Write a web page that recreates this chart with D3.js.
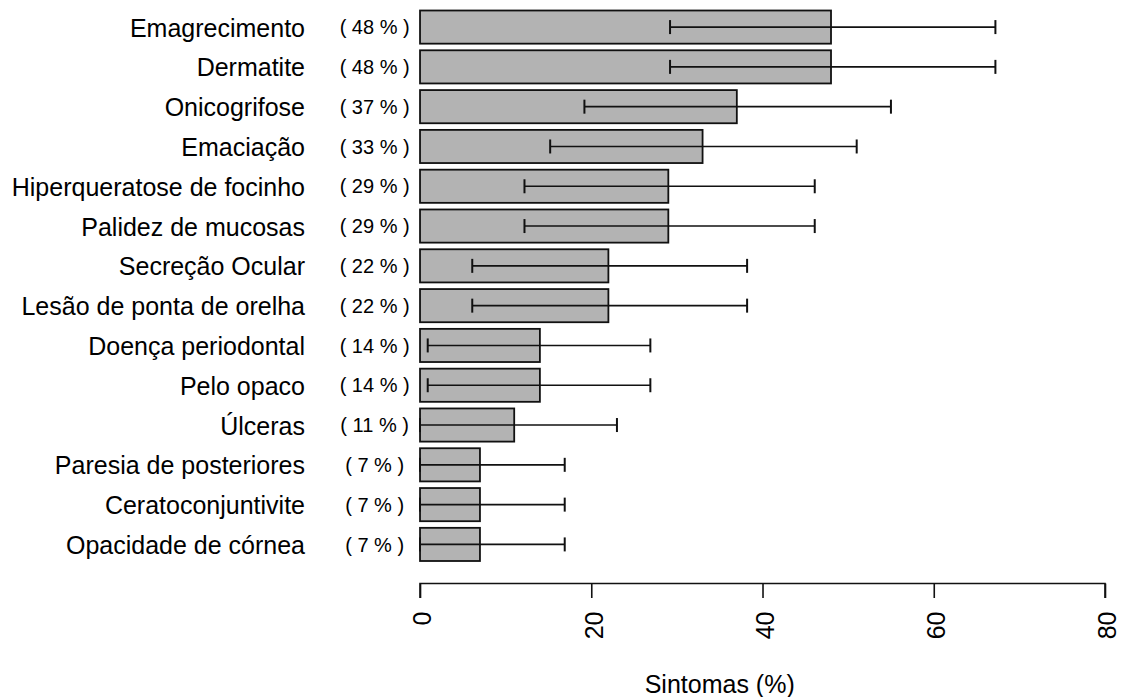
<!DOCTYPE html>
<html>
<head>
<meta charset="utf-8">
<script src="https://cdn.jsdelivr.net/npm/d3@7"></script>
<style>
  html, body { margin: 0; padding: 0; background: #fff; }
  svg { display: block; }
  text { font-family: "Liberation Sans", Arial, sans-serif; fill: #000; }
</style>
</head>
<body>
<svg id="chart" width="1123" height="697"></svg>
<script>
// Symptom frequencies (%) with confidence limits, listed top to bottom
const symptoms = [
  "Emagrecimento", "Dermatite", "Onicogrifose", "Emaciação",
  "Hiperqueratose de focinho", "Palidez de mucosas", "Secreção Ocular",
  "Lesão de ponta de orelha", "Doença periodontal", "Pelo opaco",
  "Úlceras", "Paresia de posteriores", "Ceratoconjuntivite", "Opacidade de córnea"
];
const percent = [48, 48, 37, 33, 29, 29, 22, 22, 14, 14, 11, 7, 7, 7];
const lowerCI = [29.2, 29.2, 19.2, 15.2, 12.2, 12.2, 6.1, 6.1, 0.9, 0.9, 0, 0, 0, 0];
const upperCI = [67.2, 67.2, 55.0, 51.0, 46.1, 46.1, 38.2, 38.2, 26.9, 26.9, 23.0, 16.9, 16.9, 16.9];
const xTicks = [0, 20, 40, 60, 80];
const xTitle = "Sintomas (%)";

const svg = d3.select("#chart");

// x runs from -10 so the percentage labels sit inside the plot region
const x = d3.scaleLinear().domain([-10, 80]).range([334.4, 1105]);
const y = d3.scaleBand()
  .domain(symptoms)
  .range([10.5, 561])
  .paddingInner(0.2 / 1.2)
  .paddingOuter(0);

const rows = symptoms.map((name, i) => ({
  name, value: percent[i], lo: lowerCI[i], hi: upperCI[i]
}));

// bars
svg.append("g").selectAll("rect")
  .data(rows)
  .join("rect")
  .attr("x", x(0))
  .attr("y", d => y(d.name))
  .attr("width", d => x(d.value) - x(0))
  .attr("height", y.bandwidth())
  .attr("fill", "#b3b3b3")
  .attr("stroke", "#111")
  .attr("stroke-width", 1.8);

// error bars with end caps
const capHalf = 7;
const eb = svg.append("g").attr("stroke", "#111").attr("fill", "none");
rows.forEach(d => {
  const cy = y(d.name) + y.bandwidth() / 2;
  eb.append("line").attr("x1", x(d.lo)).attr("x2", x(d.hi)).attr("y1", cy).attr("y2", cy)
    .attr("stroke-width", 1.6);
  eb.append("line").attr("x1", x(d.lo)).attr("x2", x(d.lo)).attr("y1", cy - capHalf).attr("y2", cy + capHalf)
    .attr("stroke-width", 2);
  eb.append("line").attr("x1", x(d.hi)).attr("x2", x(d.hi)).attr("y1", cy - capHalf).attr("y2", cy + capHalf)
    .attr("stroke-width", 2);
});

// category names
svg.append("g").selectAll("text")
  .data(rows)
  .join("text")
  .attr("x", 305)
  .attr("y", d => y(d.name) + y.bandwidth() / 2 + 9.5)
  .attr("text-anchor", "end")
  .style("font-size", "25px")
  .text(d => d.name);

// percentage labels
svg.append("g").selectAll("text")
  .data(rows)
  .join("text")
  .attr("x", x(-5.3))
  .attr("y", d => y(d.name) + y.bandwidth() / 2 + 7.2)
  .attr("text-anchor", "middle")
  .style("font-size", "20px")
  .text(d => `( ${d.value} % )`);

// bottom axis
const axisY = 583.5;
const axisG = svg.append("g").attr("transform", `translate(0,${axisY})`);
axisG.call(d3.axisBottom(x).tickValues(xTicks).tickSize(14.5).tickFormat(() => ""));
axisG.select(".domain")
  .attr("d", `M${x(xTicks[0])},14.5V0H${x(xTicks[xTicks.length - 1])}V14.5`)
  .attr("stroke", "#111").attr("stroke-width", 1.6);
axisG.selectAll(".tick line").attr("stroke", "#111").attr("stroke-width", 1.6);

// rotated tick labels
svg.append("g").selectAll("text")
  .data(xTicks)
  .join("text")
  .attr("transform", d => `translate(${x(d)},${axisY + 28}) rotate(-90)`)
  .attr("text-anchor", "end")
  .attr("dy", "0.45em")
  .style("font-size", "25px")
  .text(d => d);

// axis title centred on the plot region
svg.append("text")
  .attr("x", (x.range()[0] + x.range()[1]) / 2)
  .attr("y", 693)
  .attr("text-anchor", "middle")
  .style("font-size", "25px")
  .text(xTitle);
</script>
</body>
</html>
